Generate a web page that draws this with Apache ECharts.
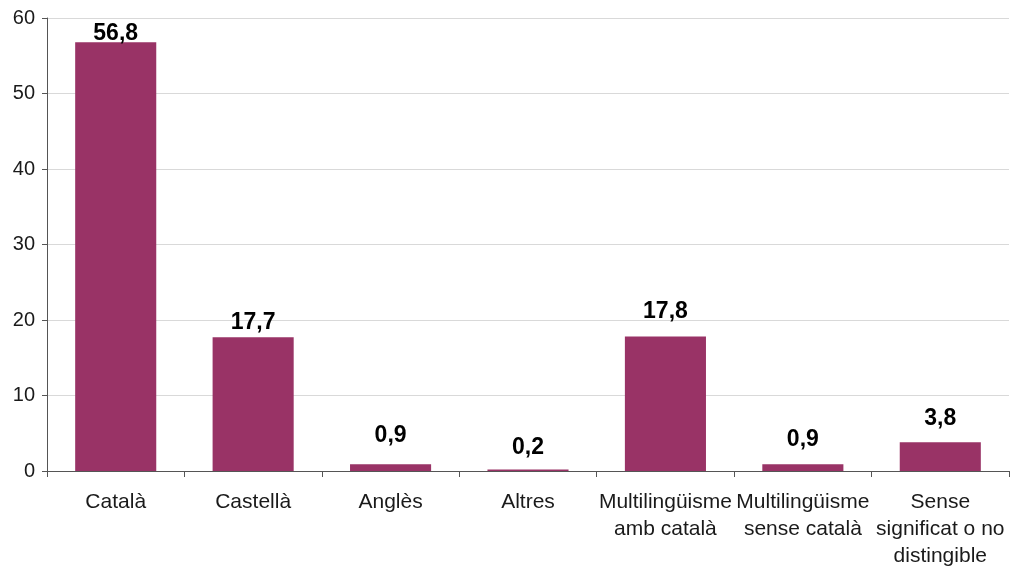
<!DOCTYPE html>
<html>
<head>
<meta charset="utf-8">
<script src="https://cdn.jsdelivr.net/npm/echarts@6/dist/echarts.min.js"></script>
<style>
  html, body { margin: 0; padding: 0; background: #ffffff; }
  #chart { width: 1021px; height: 570px; }
</style>
</head>
<body>
<div id="chart"></div>
<script>
// Language categories and their shares (%)
const categories = [
  'Català',
  'Castellà',
  'Anglès',
  'Altres',
  'Multilingüisme\namb català',
  'Multilingüisme\nsense català',
  'Sense\nsignificat o no\ndistingible'
];
const values = [56.8, 17.7, 0.9, 0.2, 17.8, 0.9, 3.8];
const yTicks = { min: 0, max: 60, interval: 10 };

// Gap (px) between each value label and the top of its bar
const labelGaps = [-3, 3, 17, 10, 13, 13, 12];

const FONT = '"Liberation Sans", Arial, sans-serif';
const chart = echarts.init(document.getElementById('chart'), null, { renderer: 'canvas' });

const barData = values.map((v, i) => ({
  value: v,
  label: { distance: labelGaps[i] }
}));

chart.setOption({
  backgroundColor: '#ffffff',
  animation: false,
  grid: { left: 47, right: 12, top: 18, bottom: 97, containLabel: false },
  xAxis: {
    type: 'category',
    data: categories,
    boundaryGap: true,
    axisLine: { lineStyle: { color: '#555555', width: 1 } },
    axisTick: { show: true, alignWithLabel: false, length: 6, lineStyle: { color: '#555555' } },
    axisLabel: {
      interval: 0,
      margin: 18,
      color: '#1a1a1a',
      fontFamily: FONT,
      fontSize: 21,
      lineHeight: 27
    }
  },
  yAxis: {
    type: 'value',
    min: yTicks.min,
    max: yTicks.max,
    interval: yTicks.interval,
    axisLine: { show: true, lineStyle: { color: '#555555', width: 1 } },
    axisTick: { show: true, length: 5, lineStyle: { color: '#555555' } },
    axisLabel: {
      margin: 12,
      color: '#1a1a1a',
      fontFamily: FONT,
      fontSize: 20
    },
    splitLine: { show: true, lineStyle: { color: '#d9d9d9', width: 1 } }
  },
  series: [{
    type: 'bar',
    data: barData,
    barCategoryGap: '41%',
    itemStyle: { color: '#993366' },
    label: {
      show: true,
      position: 'top',
      color: '#000000',
      fontFamily: FONT,
      fontWeight: 'bold',
      fontSize: 23,
      formatter: p => String(p.value).replace('.', ',')
    }
  }]
});
</script>
</body>
</html>
